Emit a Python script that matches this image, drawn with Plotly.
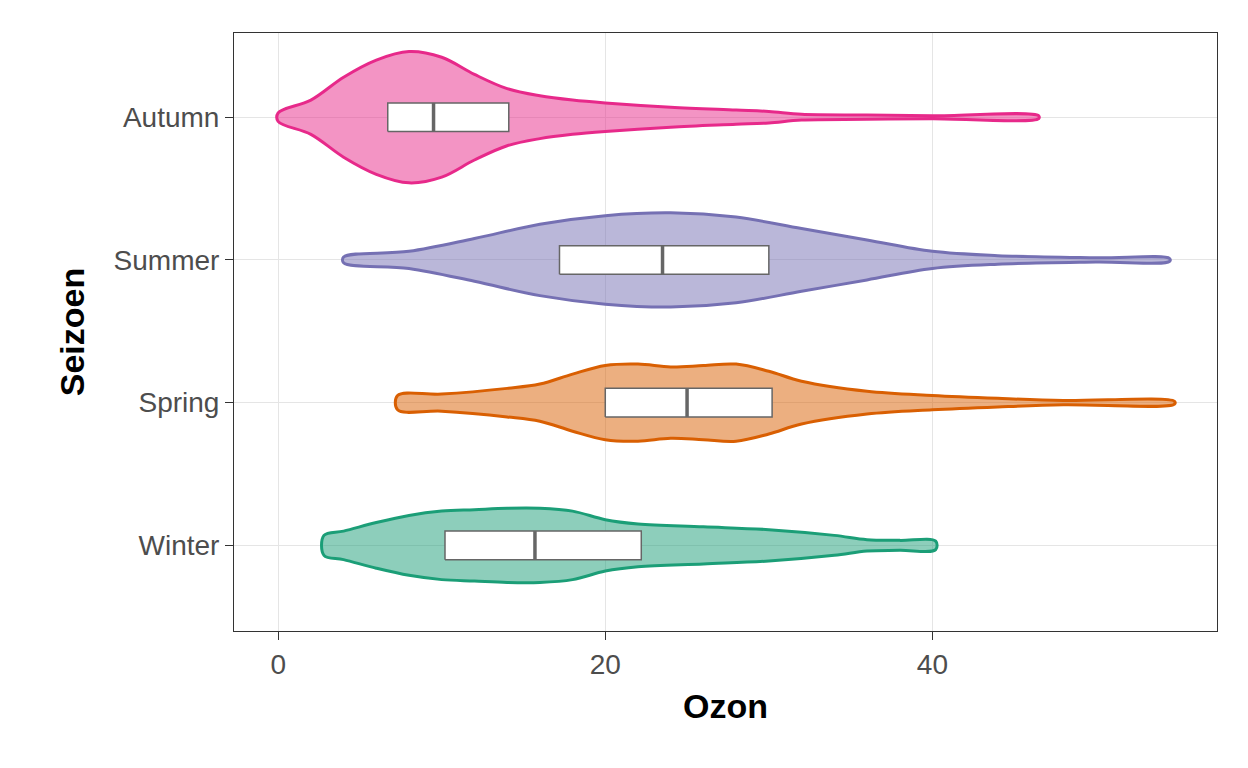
import plotly.graph_objects as go

seasons = ["Winter", "Spring", "Summer", "Autumn"]
colors = ["#1B9E77", "#D95F02", "#7570B3", "#E7298A"]
fills = ["rgba(27,158,119,0.5)", "rgba(217,95,2,0.5)", "rgba(117,112,179,0.5)", "rgba(231,41,138,0.5)"]

# violin outlines: ozone value and half-width (category units)
winter_x = [2.8, 4, 6, 8, 10, 12, 14, 16, 18, 20, 22, 26, 30, 34, 36, 38, 40.2]
winter_w = [0.07, 0.1, 0.16, 0.21, 0.24, 0.25, 0.26, 0.26, 0.24, 0.18, 0.15, 0.13, 0.11, 0.07, 0.04, 0.035, 0.03]
spring_x = [7.3, 10, 14, 16, 18, 20, 22, 24, 26, 28, 30, 32, 36, 40, 44, 48, 54.8]
spring_w = [0.05, 0.06, 0.1, 0.13, 0.2, 0.26, 0.27, 0.25, 0.26, 0.27, 0.22, 0.15, 0.08, 0.05, 0.03, 0.015, 0.01]
summer_x = [4, 8, 12, 16, 20, 24, 28, 32, 36, 40, 44, 50, 54.5]
summer_w = [0.02, 0.06, 0.15, 0.25, 0.31, 0.33, 0.3, 0.22, 0.14, 0.06, 0.03, 0.015, 0.01]
autumn_x = [0, 2, 4, 6, 8, 10, 12, 14, 16, 18, 20, 24, 28, 30, 32, 36, 40, 46.5]
autumn_w = [0.03, 0.12, 0.28, 0.4, 0.46, 0.42, 0.3, 0.2, 0.15, 0.12, 0.1, 0.07, 0.05, 0.04, 0.02, 0.015, 0.01, 0.01]

q1 = [10.2, 20.0, 17.2, 6.7]
median = [15.7, 25.0, 23.5, 9.5]
q3 = [22.2, 30.2, 30.0, 14.1]
box_half = 0.1

profiles = [(winter_x, winter_w), (spring_x, spring_w), (summer_x, summer_w), (autumn_x, autumn_w)]

fig = go.Figure()
for i, (xs, ws) in enumerate(profiles):
    px = xs + xs[::-1]
    py = [i + w for w in ws] + [i - w for w in ws[::-1]]
    fig.add_trace(go.Scatter(x=px + [px[0]], y=py + [py[0]], mode="lines", fill="toself",
                             fillcolor=fills[i], line=dict(color=colors[i], width=3),
                             line_shape="spline", showlegend=False, hoverinfo="skip"))
    fig.add_trace(go.Scatter(x=[q1[i], q3[i], q3[i], q1[i], q1[i]],
                             y=[i - box_half, i - box_half, i + box_half, i + box_half, i - box_half],
                             mode="lines", fill="toself", fillcolor="white",
                             line=dict(color="#666666", width=1.5), showlegend=False))
    fig.add_trace(go.Scatter(x=[median[i], median[i]], y=[i - box_half, i + box_half],
                             mode="lines", line=dict(color="#666666", width=3.5), showlegend=False))

fig.update_layout(
    width=1248, height=768, plot_bgcolor="white", paper_bgcolor="white",
    margin=dict(l=226, r=39, t=25, b=145),
    font=dict(family="Liberation Sans, Arial", size=28, color="#4D4D4D"),
    xaxis=dict(range=[-2.7, 57.4], tickvals=[0, 20, 40], showgrid=True, gridcolor="#E5E5E5",
               ticks="outside", ticklen=8, tickcolor="#333333", zeroline=False,
               showline=True, linecolor="#333333", mirror=True,
               title=dict(text="<b>Ozon</b>", font=dict(size=34, color="black"))),
    yaxis=dict(range=[-0.6, 3.59], tickvals=[0, 1, 2, 3], ticktext=seasons, showgrid=True,
               gridcolor="#E5E5E5", ticks="outside", ticklen=8, tickcolor="#333333",
               zeroline=False, showline=True, linecolor="#333333", mirror=True,
               title=dict(text="<b>Seizoen</b>", font=dict(size=34, color="black"), standoff=18)),
)
fig.write_html("out.html")
